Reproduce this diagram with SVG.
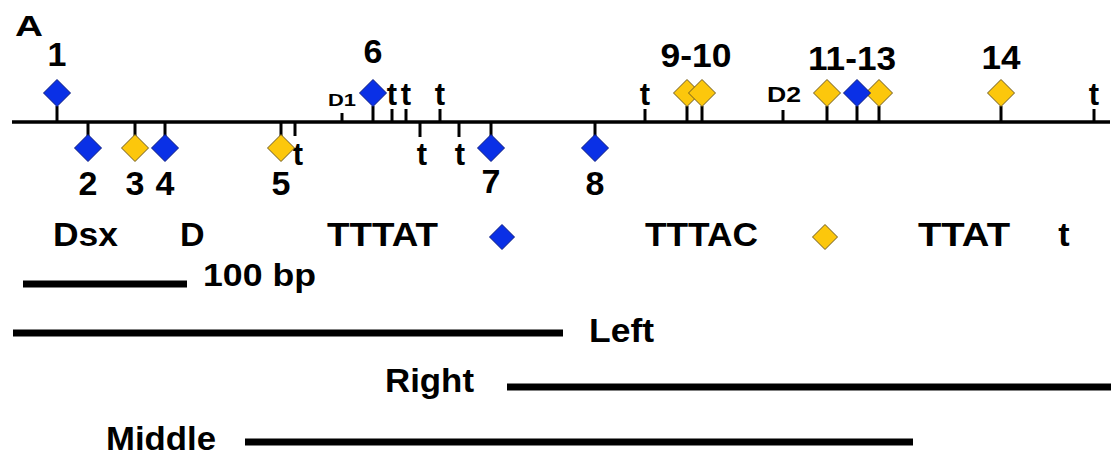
<svg xmlns="http://www.w3.org/2000/svg" xmlns:xlink="http://www.w3.org/1999/xlink" width="1113" height="458" viewBox="0 0 1113 458">
  <style>
    .lbl { font-family: "Liberation Sans", Arial, sans-serif; font-weight: bold; fill: #000; }
    .num { font-size: 34px; text-anchor: middle; }
    .tt { font-size: 31px; text-anchor: middle; }
    .leg { font-size: 34px; }
    .tick { stroke: #000; stroke-width: 3; fill: none; }
    .axis { stroke: #000; stroke-width: 3.5; }
    .bar { stroke: #000; stroke-width: 7; }
    .blue { fill: #0a30e6; stroke: #0a1a80; stroke-width: 1; }
    .gold { fill: #fcc70c; stroke: #6e5b22; stroke-width: 1; }
  </style>
  <defs>
    <path id="dm" d="M0,-13.5 L13.5,0 L0,13.5 L-13.5,0 Z"/>
    <path id="dms" d="M0,-12.5 L12.5,0 L0,12.5 L-12.5,0 Z"/>
  </defs>

  <rect width="1113" height="458" fill="#fff"/>

  <text class="lbl" x="15" y="36" font-size="30" textLength="28" lengthAdjust="spacingAndGlyphs">A</text>

  <!-- sequence axis -->
  <g id="axis">
    <line class="axis" x1="12" y1="122" x2="1110" y2="122"/>
  </g>

  <!-- short-tick landmarks -->
  <g id="landmarks">
    <line class="tick" x1="342" y1="113" x2="342" y2="122"/>
    <text class="lbl" x="328" y="106" font-size="17" textLength="28" lengthAdjust="spacingAndGlyphs">D1</text>
    <line class="tick" x1="783" y1="110" x2="783" y2="121"/>
    <text class="lbl" x="767" y="102" font-size="22" textLength="34" lengthAdjust="spacingAndGlyphs">D2</text>
  </g>

  <!-- t sites -->
  <g id="t-sites">
    <line class="tick" x1="392" y1="109" x2="392" y2="122"/>
    <line class="tick" x1="406" y1="109" x2="406" y2="122"/>
    <line class="tick" x1="440" y1="109" x2="440" y2="122"/>
    <line class="tick" x1="645" y1="109" x2="645" y2="122"/>
    <line class="tick" x1="1094" y1="109" x2="1094" y2="122"/>
    <text class="lbl tt" x="392" y="105">t</text>
    <text class="lbl tt" x="406" y="105">t</text>
    <text class="lbl tt" x="440" y="105">t</text>
    <text class="lbl tt" x="645" y="105">t</text>
    <text class="lbl tt" x="1094" y="105">t</text>
    <line class="tick" x1="295" y1="122" x2="295" y2="136"/>
    <line class="tick" x1="420" y1="122" x2="420" y2="137"/>
    <line class="tick" x1="459" y1="122" x2="459" y2="137"/>
    <text class="lbl tt" x="298" y="165">t</text>
    <text class="lbl tt" x="422" y="165">t</text>
    <text class="lbl tt" x="460" y="165">t</text>
  </g>

  <!-- binding sites above the axis -->
  <g id="site-1">
    <line class="tick" x1="57" y1="106" x2="57" y2="122"/>
    <use xlink:href="#dm" class="blue" x="57" y="93"/>
    <text class="lbl num" x="57" y="66">1</text>
  </g>
  <g id="site-6">
    <line class="tick" x1="373" y1="106" x2="373" y2="122"/>
    <use xlink:href="#dm" class="blue" x="373" y="93"/>
    <text class="lbl num" x="373" y="63">6</text>
  </g>
  <g id="site-9-10">
    <line class="tick" x1="687" y1="106" x2="687" y2="122"/>
    <line class="tick" x1="702" y1="106" x2="702" y2="122"/>
    <use xlink:href="#dm" class="gold" x="687" y="93"/>
    <use xlink:href="#dm" class="gold" x="702" y="93"/>
    <text class="lbl num" x="696" y="67" textLength="71" lengthAdjust="spacingAndGlyphs">9-10</text>
  </g>
  <g id="site-11-13">
    <line class="tick" x1="827" y1="106" x2="827" y2="122"/>
    <line class="tick" x1="857" y1="106" x2="857" y2="122"/>
    <line class="tick" x1="879" y1="106" x2="879" y2="122"/>
    <use xlink:href="#dm" class="gold" x="827" y="93"/>
    <use xlink:href="#dm" class="gold" x="879" y="93"/>
    <use xlink:href="#dm" class="blue" x="857" y="93"/>
    <text class="lbl num" x="852" y="70" textLength="88" lengthAdjust="spacingAndGlyphs">11-13</text>
  </g>
  <g id="site-14">
    <line class="tick" x1="1001" y1="106" x2="1001" y2="122"/>
    <use xlink:href="#dm" class="gold" x="1001" y="93"/>
    <text class="lbl num" x="1001" y="69" textLength="39" lengthAdjust="spacingAndGlyphs">14</text>
  </g>

  <!-- binding sites below the axis -->
  <g id="site-2">
    <line class="tick" x1="88" y1="122" x2="88" y2="136"/>
    <use xlink:href="#dm" class="blue" x="88" y="148"/>
    <text class="lbl num" x="88" y="195">2</text>
  </g>
  <g id="site-3">
    <line class="tick" x1="135" y1="122" x2="135" y2="136"/>
    <use xlink:href="#dm" class="gold" x="135" y="148"/>
    <text class="lbl num" x="135" y="195">3</text>
  </g>
  <g id="site-4">
    <line class="tick" x1="165" y1="122" x2="165" y2="136"/>
    <use xlink:href="#dm" class="blue" x="165" y="148"/>
    <text class="lbl num" x="165" y="195">4</text>
  </g>
  <g id="site-5">
    <line class="tick" x1="281" y1="122" x2="281" y2="136"/>
    <use xlink:href="#dm" class="gold" x="281" y="148"/>
    <text class="lbl num" x="281" y="195">5</text>
  </g>
  <g id="site-7">
    <line class="tick" x1="491" y1="122" x2="491" y2="136"/>
    <use xlink:href="#dm" class="blue" x="491" y="148"/>
    <text class="lbl num" x="491" y="193">7</text>
  </g>
  <g id="site-8">
    <line class="tick" x1="595" y1="122" x2="595" y2="136"/>
    <use xlink:href="#dm" class="blue" x="595" y="148"/>
    <text class="lbl num" x="595" y="195">8</text>
  </g>

  <!-- key -->
  <g id="legend">
    <text class="lbl leg" x="53" y="246" textLength="65" lengthAdjust="spacingAndGlyphs">Dsx</text>
    <text class="lbl leg" x="180" y="246">D</text>
    <text class="lbl leg" x="327" y="246" textLength="111" lengthAdjust="spacingAndGlyphs">TTTAT</text>
    <use xlink:href="#dms" class="blue" x="502" y="237"/>
    <text class="lbl leg" x="645" y="246" textLength="113" lengthAdjust="spacingAndGlyphs">TTTAC</text>
    <use xlink:href="#dms" class="gold" x="825" y="237"/>
    <text class="lbl leg" x="918" y="246" textLength="92" lengthAdjust="spacingAndGlyphs">TTAT</text>
    <text class="lbl leg" x="1064" y="246" text-anchor="middle">t</text>
  </g>

  <!-- scale bar -->
  <g id="scale">
    <line class="bar" x1="23" y1="284" x2="187" y2="284"/>
    <text class="lbl" x="203" y="286" font-size="32" textLength="113" lengthAdjust="spacingAndGlyphs">100 bp</text>
  </g>

  <!-- fragments -->
  <g id="frag-left">
    <line class="bar" x1="13" y1="333" x2="563" y2="333"/>
    <text class="lbl leg" x="589" y="342" textLength="65" lengthAdjust="spacingAndGlyphs">Left</text>
  </g>
  <g id="frag-right">
    <text class="lbl leg" x="385" y="392" textLength="89" lengthAdjust="spacingAndGlyphs">Right</text>
    <line class="bar" x1="507" y1="387" x2="1111" y2="387"/>
  </g>
  <g id="frag-middle">
    <text class="lbl leg" x="106" y="450" textLength="110" lengthAdjust="spacingAndGlyphs">Middle</text>
    <line class="bar" x1="245" y1="442" x2="913" y2="442"/>
  </g>
</svg>
